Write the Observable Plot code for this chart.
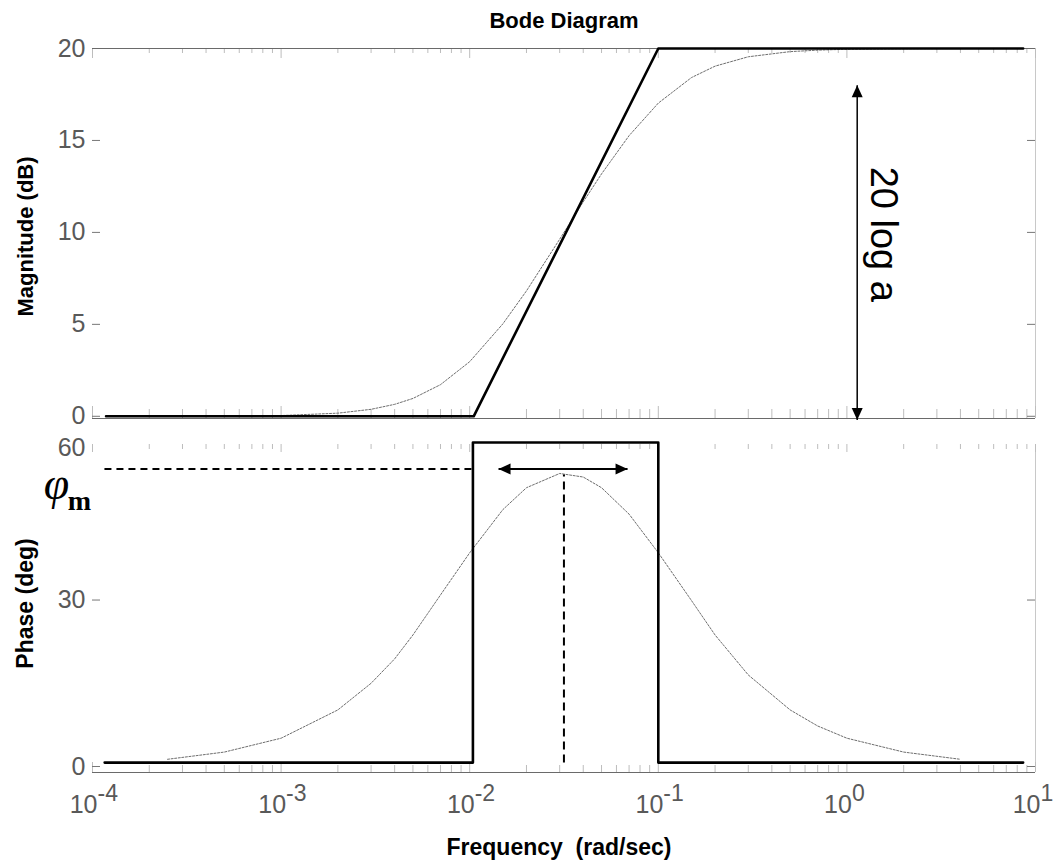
<!DOCTYPE html>
<html><head><meta charset="utf-8">
<script src="https://cdn.jsdelivr.net/npm/d3@7"></script>
<script src="https://cdn.jsdelivr.net/npm/@observablehq/plot@0.6"></script>
<style>
body{margin:0;background:#fff}
#chart{position:relative;width:1061px;height:861px;background:#fff}
#chart svg{position:absolute;left:0;overflow:visible}
#chart text{white-space:pre}
</style>
</head><body>
<div id="chart"></div>
<script>
// ---- data ----
const xLim = [1e-4, 10];
const magLim = [-0.12, 20];
const magTickValues = [0, 5, 10, 15, 20];
const phaseTickValues = [0, 30, 60];
const phaseTickMarks = [0, 30];
const phaseLim = [-1.08, 60.6];
const decadeTicks = [1e-4, 1e-3, 1e-2, 1e-1, 1, 10];
const decadeExponents = ["-4", "-3", "-2", "-1", "0", "1"];
const minorMultipliers = [2, 3, 4, 5, 6, 7, 8, 9];

// exact (smooth) response
const freqs = [2.5e-4, 5e-4, 1e-3, 2e-3, 3e-3, 4e-3, 5e-3, 7e-3, 1e-2, 1.5e-2, 2e-2, 3e-2, 4e-2, 5e-2, 7e-2, 0.1, 0.15, 0.2, 0.3, 0.5, 0.7, 1, 2, 4];
const magDb = [0.0, 0.01, 0.04, 0.17, 0.38, 0.65, 0.97, 1.72, 2.97, 5.03, 6.82, 9.63, 11.66, 13.18, 15.26, 17.03, 18.42, 19.04, 19.55, 19.83, 19.91, 19.96, 19.99, 20.0];
const phaseDeg = [1.3, 2.6, 5.1, 10.2, 15.0, 19.4, 23.7, 31.0, 39.3, 47.8, 52.1, 54.9, 54.2, 52.1, 46.9, 39.3, 29.9, 23.7, 16.5, 10.2, 7.3, 5.1, 2.6, 1.3];

// asymptotes
const magAsymW = [1.18e-4, 1.05e-2, 0.1, 8.6];
const magAsymDb = [0, 0, 20, 20];
const phaseAsymW = [1.16e-4, 1.04e-2, 1.04e-2, 0.1, 0.1, 8.6];
const phaseAsymDeg = [0.7, 0.7, 61, 61, 0.7, 0.7];

// annotations
const gainArrowW = 1.134;
const gainArrowDb = [-0.2, 18];
const gainText = "20 log a";
const gainTextPos = {w: 1.56, db: 9.9};
const phiMaxDeg = 55.8;
const phiDashW = [1.157e-4, 1.04e-2];
const phiArrowW = [0.01422, 0.0687];
const peakW = 0.0316;
const peakDeg = [0.7, 54.7];

// ---- build ----
const minorTicks = decadeTicks.slice(0, -1).flatMap(d => minorMultipliers.map(m => m * d));
const magCurve = freqs.map((w, i) => ({w, v: magDb[i]}));
const phaseCurve = freqs.map((w, i) => ({w, v: phaseDeg[i]}));
const magAsym = magAsymW.map((w, i) => ({w, v: magAsymDb[i]}));
const phaseAsym = phaseAsymW.map((w, i) => ({w, v: phaseAsymDeg[i]}));

const W = 1061, ML = 92, MR = 26;
const plotW = W - ML - MR;
const font = "Liberation Sans, Arial, sans-serif";
const serif = "Liberation Serif, Times New Roman, serif";
const gray = "#595959";
const tickGray = "#bdbdbd";

const triUp = {draw(c){c.moveTo(0,0);c.lineTo(5.5,12);c.lineTo(-5.5,12);c.closePath();}};
const triDown = {draw(c){c.moveTo(0,0);c.lineTo(5.5,-12);c.lineTo(-5.5,-12);c.closePath();}};
const triLeft = {draw(c){c.moveTo(0,0);c.lineTo(12,-5.5);c.lineTo(12,5.5);c.closePath();}};
const triRight = {draw(c){c.moveTo(0,0);c.lineTo(-12,-5.5);c.lineTo(-12,5.5);c.closePath();}};

// ---- top: magnitude ----
const H1 = 430, MT1 = 48, MB1 = 12;
const plotH1 = H1 - MT1 - MB1;
const magChart = Plot.plot({
  width: W, height: H1, marginTop: MT1, marginBottom: MB1, marginLeft: ML, marginRight: MR,
  style: {fontFamily: font, background: "transparent", overflow: "visible"},
  x: {type: "log", domain: xLim, axis: null},
  y: {domain: magLim, axis: null},
  marks: [
    Plot.ruleX([xLim[1]], {stroke: "#c8c8c8", strokeWidth: 1}),
    Plot.tickX(minorTicks, {x: d => d, insetBottom: plotH1 - 5, stroke: tickGray}),
    Plot.tickX(decadeTicks, {x: d => d, insetBottom: plotH1 - 10, stroke: tickGray}),
    Plot.tickX(minorTicks, {x: d => d, insetTop: plotH1 - 9, stroke: tickGray}),
    Plot.tickX(decadeTicks, {x: d => d, insetTop: plotH1 - 12, stroke: tickGray}),
    Plot.tickY(magTickValues, {y: d => d, insetRight: plotW - 8, stroke: "#777"}),
    Plot.tickY(magTickValues, {y: d => d, insetLeft: plotW - 8, stroke: "#777"}),
    Plot.ruleY(magLim, {stroke: "#6a6a6a", strokeWidth: 1.2}),
    Plot.text(magTickValues, {y: d => d, text: d => String(d), frameAnchor: "left", textAnchor: "end", lineAnchor: "middle", dx: -7, fontSize: 25, fill: gray}),
    Plot.line(magCurve, {x: "w", y: "v", stroke: "#6e6e6e", strokeWidth: 1, strokeDasharray: "2,1.6"}),
    Plot.line(magAsym, {x: "w", y: "v", stroke: "black", strokeWidth: 2.6}),
    Plot.link([{w: gainArrowW}], {x1: "w", x2: "w", y1: () => gainArrowDb[0], y2: () => gainArrowDb[1], stroke: "black", strokeWidth: 1.5}),
    Plot.dot([{w: gainArrowW, v: gainArrowDb[1]}], {x: "w", y: "v", symbol: triUp, fill: "black", stroke: "none"}),
    Plot.dot([{w: gainArrowW, v: gainArrowDb[0]}], {x: "w", y: "v", symbol: triDown, fill: "black", stroke: "none"}),
    Plot.text([gainText], {x: () => gainTextPos.w, y: () => gainTextPos.db, text: d => d, rotate: 90, textAnchor: "middle", lineAnchor: "middle", fontSize: 38, fill: "black"}),
    Plot.text(["Bode Diagram"], {text: d => d, frameAnchor: "top", textAnchor: "middle", lineAnchor: "middle", dy: -28, fontSize: 22, fontWeight: "bold", fill: "black", letterSpacing: "-0.4px"}),
    Plot.text(["Magnitude (dB)"], {text: d => d, frameAnchor: "left", textAnchor: "middle", lineAnchor: "middle", dx: -67, dy: 3, rotate: -90, fontSize: 22, fontWeight: "bold", fill: "black"})
  ]
});
magChart.style.top = "0px";

// ---- bottom: phase (axis compressed above 30 deg, as in the reference) ----
const TOP2 = 430;
const H2 = 431, MT2 = 14, MB2 = 89;
const plotH2 = H2 - MT2 - MB2;
const yWarp = v => (v <= 30 ? v * 5.567 : 167 + (v - 30) * 5.1);
const phaseChart = Plot.plot({
  width: W, height: H2, marginTop: MT2, marginBottom: MB2, marginLeft: ML, marginRight: MR,
  style: {fontFamily: font, background: "transparent", overflow: "visible"},
  x: {type: "log", domain: xLim, axis: null},
  y: {transform: yWarp, domain: phaseLim.map(yWarp), axis: null},
  marks: [
    Plot.ruleX([xLim[1]], {stroke: "#c8c8c8", strokeWidth: 1}),
    Plot.tickX(minorTicks, {x: d => d, insetBottom: plotH2 - 5, stroke: tickGray}),
    Plot.tickX(decadeTicks, {x: d => d, insetBottom: plotH2 - 8, stroke: tickGray}),
    Plot.tickX(minorTicks, {x: d => d, insetTop: plotH2 - 7, stroke: tickGray}),
    Plot.tickX(decadeTicks, {x: d => d, insetTop: plotH2 - 10, stroke: tickGray}),
    Plot.tickY(phaseTickMarks, {y: d => d, insetRight: plotW - 8, stroke: "#777"}),
    Plot.tickY(phaseTickMarks, {y: d => d, insetLeft: plotW - 8, stroke: "#777"}),
    Plot.ruleY([phaseLim[0]], {stroke: "#6a6a6a", strokeWidth: 1.2}),
    Plot.text(phaseTickValues, {y: d => d, text: d => String(d), frameAnchor: "left", textAnchor: "end", lineAnchor: "middle", dx: -7, fontSize: 25, fill: gray}),
    Plot.text(decadeTicks, {x: d => d, text: () => "10", frameAnchor: "bottom", textAnchor: "end", lineAnchor: "middle", dx: 5, dy: 32, fontSize: 25, fill: gray}),
    Plot.text(decadeTicks, {x: d => d, text: (d, i) => decadeExponents[i], frameAnchor: "bottom", textAnchor: "start", lineAnchor: "middle", dx: 5, dy: 21, fontSize: 23, fill: gray}),
    Plot.line(phaseCurve, {x: "w", y: "v", stroke: "#6e6e6e", strokeWidth: 1, strokeDasharray: "2,1.6"}),
    Plot.line(phaseAsym, {x: "w", y: "v", stroke: "black", strokeWidth: 2.6}),
    Plot.link([0], {x1: () => phiDashW[0], x2: () => phiDashW[1], y1: () => phiMaxDeg, y2: () => phiMaxDeg, stroke: "black", strokeWidth: 2, strokeDasharray: "7,5"}),
    Plot.link([0], {x1: () => peakW, x2: () => peakW, y1: () => peakDeg[0], y2: () => peakDeg[1], stroke: "black", strokeWidth: 2, strokeDasharray: "8,5"}),
    Plot.link([0], {x1: () => phiArrowW[0], x2: () => phiArrowW[1], y1: () => phiMaxDeg, y2: () => phiMaxDeg, stroke: "black", strokeWidth: 2}),
    Plot.dot([{w: phiArrowW[0], v: phiMaxDeg}], {x: "w", y: "v", symbol: triLeft, fill: "black", stroke: "none"}),
    Plot.dot([{w: phiArrowW[1], v: phiMaxDeg}], {x: "w", y: "v", symbol: triRight, fill: "black", stroke: "none"}),
    Plot.text(["φ"], {text: d => d, frameAnchor: "top-left", textAnchor: "middle", lineAnchor: "middle", dx: -36, dy: 40, fontSize: 46, fontStyle: "italic", fontFamily: serif, fill: "black"}),
    Plot.text(["m"], {text: d => d, frameAnchor: "top-left", textAnchor: "middle", lineAnchor: "middle", dx: -13, dy: 57, fontSize: 28, fontWeight: "bold", fontFamily: serif, fill: "black"}),
    Plot.text(["Phase (deg)"], {text: d => d, frameAnchor: "left", textAnchor: "middle", lineAnchor: "middle", dx: -67, dy: -5, rotate: -90, fontSize: 23, fontWeight: "bold", fill: "black"}),
    Plot.text(["Frequency  (rad/sec)"], {text: d => d, frameAnchor: "bottom", textAnchor: "middle", lineAnchor: "middle", dx: -5, dy: 75, fontSize: 23, fontWeight: "bold", fill: "black"})
  ]
});
phaseChart.style.top = TOP2 + "px";

const chart = document.getElementById("chart");
chart.appendChild(magChart);
chart.appendChild(phaseChart);
</script>
</body></html>
